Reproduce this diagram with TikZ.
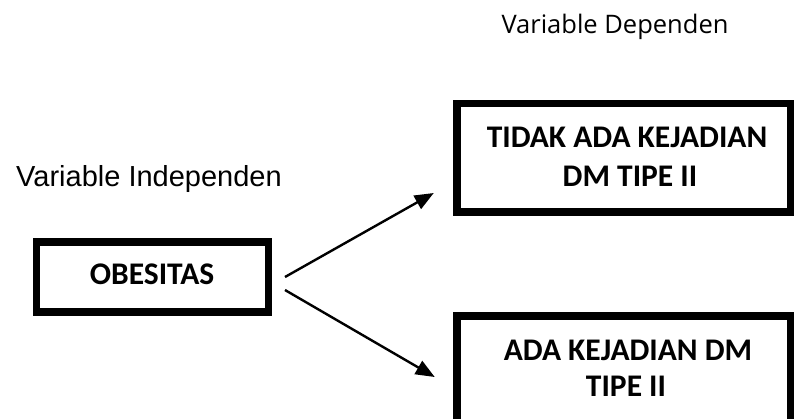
\documentclass[tikz,border=0pt]{standalone}
\usepackage{fontspec}
\setmainfont{Carlito}
\newfontfamily\arialf{Liberation Sans}
\newfontfamily\segoef{Open Sans}
\usetikzlibrary{arrows.meta}
\tikzset{
  box/.style={draw=black, line width=7.5pt, inner sep=0pt, fill=none},
  boxtext/.style={font=\bfseries\fontsize{31.5}{36}\selectfont, inner sep=0pt, anchor=base},
  conn/.style={line width=2.4pt, -{Triangle[length=19pt,width=15pt]}, shorten >=-2pt},
}
\begin{document}
\begin{tikzpicture}[x=1pt,y=-1pt]
\path[use as bounding box, clip] (0,0) rectangle (794,418);
\fill[white] (0,0) rectangle (794,418);
% labels
\node[font=\segoef\fontsize{25.5}{28}\selectfont, anchor=base, inner sep=0pt] (dep) at (615,33) {Variable Dependen};
\node[font=\arialf\fontsize{29}{32}\selectfont, anchor=base, inner sep=0pt] (indep) at (149,186) {Variable Independen};
% boxes
\node[box, minimum width=232pt, minimum height=70pt] (obes) at (152.5,277) {};
\node[boxtext] (obest) at (152,284) {OBESITAS};
\node[box, minimum width=334pt, minimum height=108.5pt] (top) at (624,157.75) {};
\node[boxtext] (topt1) at (627,147) {TIDAK ADA KEJADIAN};
\node[boxtext] (topt2) at (630,186) {DM TIPE II};
\node[box, minimum width=334pt, minimum height=150pt] (bot) at (624,391) {};
\node[boxtext] (bott1) at (628,360) {ADA KEJADIAN DM};
\node[boxtext] (bott2) at (626,396) {TIPE II};
% connectors
\coordinate (s1) at (285,277);
\coordinate (s2) at (285,290);
\coordinate (e1) at (432,194);
\coordinate (e2) at (433,376);
\draw[conn] (s1) -- (e1);
\draw[conn] (s2) -- (e2);
\end{tikzpicture}
\end{document}
